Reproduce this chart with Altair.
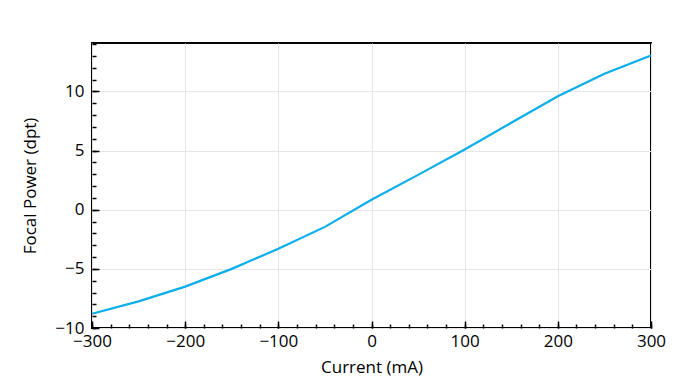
import altair as alt
import pandas as pd

current = [-300, -250, -200, -150, -100, -50, 0, 50, 100, 150, 200, 250, 300]
power = [-8.8, -7.75, -6.5, -5.0, -3.3, -1.45, 0.85, 2.95, 5.1, 7.35, 9.6, 11.5, 13.05]
x_major = list(range(-300, 301, 100))
x_minor = list(range(-300, 301, 20))
y_major = [-10, -5, 0, 5, 10]
y_minor = list(range(-10, 15))

df = pd.DataFrame({"current": current, "power": power})
FONT = "Open Sans"
FS = 17

xs = alt.Scale(domain=[-300, 300], nice=False, zero=False)
ys = alt.Scale(domain=[-10, 14.1], nice=False, zero=False)

base = alt.Chart(df)

common = dict(labelFont=FONT, titleFont=FONT, labelFontSize=FS, titleFontSize=FS,
              labelColor="black", titleColor="black", titleFontWeight="normal",
              gridColor="#e6e6e6", gridWidth=1, labelFlush=False, labelOverlap=False)

line = base.mark_line(color="#0aaeea", strokeWidth=2.2).encode(
    x=alt.X("current:Q", scale=xs,
            axis=alt.Axis(values=x_major, title="Current (mA)", grid=True, ticks=False,
                          domain=False, labelPadding=5, titlePadding=10, format="d",
                          orient="bottom", **common)),
    y=alt.Y("power:Q", scale=ys,
            axis=alt.Axis(values=y_major, title="Focal Power (dpt)", grid=True, ticks=False,
                          domain=False, labelPadding=8, titlePadding=15, format="d",
                          orient="left", **common)),
)


def tick_layer(xvals, yvals, size):
    return base.mark_line(strokeOpacity=0).encode(
        x=alt.X("current:Q", scale=xs,
                axis=alt.Axis(values=xvals, orient="bottom", offset=-size, tickSize=size,
                              tickWidth=1.5, tickColor="black", labels=False, domain=False,
                              grid=False, title="")),
        y=alt.Y("power:Q", scale=ys,
                axis=alt.Axis(values=yvals, orient="left", offset=-size, tickSize=size,
                              tickWidth=1.5, tickColor="black", labels=False, domain=False,
                              grid=False, title="")),
    )


major = tick_layer(x_major, y_major, 7)
minor = tick_layer(x_minor, y_minor, 4)

chart = alt.layer(line, major, minor).resolve_axis(
    x="independent", y="independent"
).properties(
    width=559, height=285,
    autosize=alt.AutoSizeParams(type="none"),
    padding={"left": 84, "top": 35, "right": 37, "bottom": 50},
).configure_view(stroke="black", strokeWidth=2)

chart.save("out.html", embed_options={"renderer": "svg", "actions": False})
